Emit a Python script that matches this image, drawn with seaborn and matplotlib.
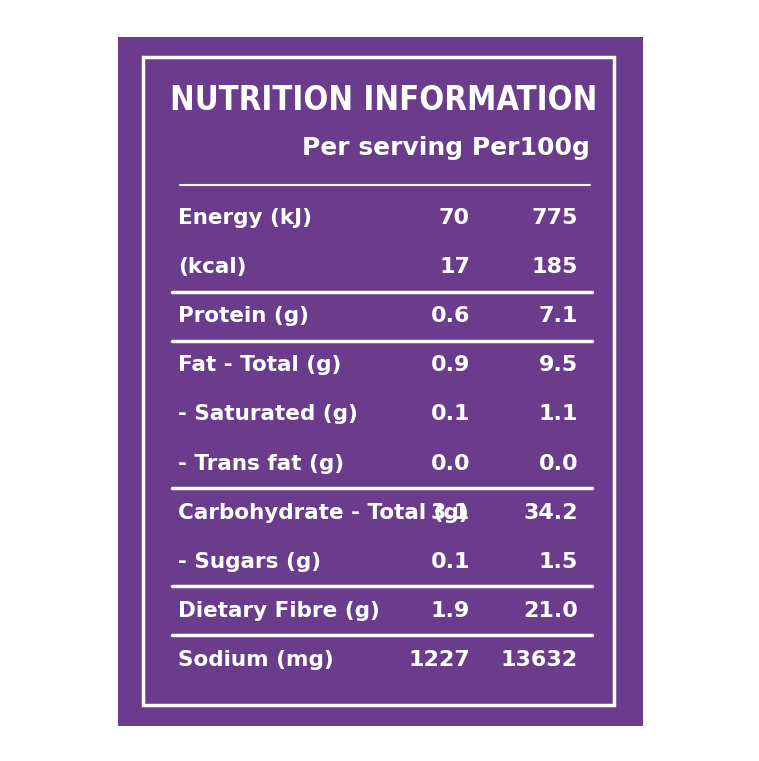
import matplotlib
matplotlib.use("Agg")
import matplotlib.pyplot as plt
import seaborn as sns
from matplotlib.patches import Rectangle

title = "NUTRITION INFORMATION"
col_headers = ["Per serving", "Per100g"]
nutrients = ["Energy (kJ)", "(kcal)", "Protein (g)", "Fat - Total (g)", "- Saturated (g)",
             "- Trans fat (g)", "Carbohydrate - Total (g)", "- Sugars (g)", "Dietary Fibre (g)", "Sodium (mg)"]
per_serving = ["70", "17", "0.6", "0.9", "0.1", "0.0", "3.1", "0.1", "1.9", "1227"]
per_100g = ["775", "185", "7.1", "9.5", "1.1", "0.0", "34.2", "1.5", "21.0", "13632"]
rule_after = [1, 2, 5, 7, 8]  # thick separator lines after these row indices

sns.set_theme(style="white")
plt.rcParams['font.family'] = ['DejaVu Sans']

purple = "#6b3c8b"
fig = plt.figure(figsize=(7.59, 7.61), dpi=100)
ax = fig.add_axes([0, 0, 1, 1])
ax.set_xlim(0, 759); ax.set_ylim(761, 0); ax.axis("off")
fig.patch.set_facecolor("white")

ax.add_patch(Rectangle((118, 37), 525, 689, facecolor=purple, edgecolor="none"))
ax.add_patch(Rectangle((143, 57), 471, 648, facecolor="none", edgecolor="white", lw=2.5))

ax.text(384, 100, title, color="white", fontsize=23.5, fontweight="bold", ha="center", va="center",
        fontstretch="condensed")
ax.text(590, 148, " ".join(col_headers), color="white", fontsize=18, ha="right", va="center",
        fontweight="semibold")

ax.plot([180, 590], [185, 185], color="white", lw=1.5)
row_y0, step = 218, 49.1
for i, (n, a, b) in enumerate(zip(nutrients, per_serving, per_100g)):
    y = row_y0 + i * step
    ax.text(178, y, n, color="white", fontsize=15.5, ha="left", va="center", fontweight="semibold")
    ax.text(470, y, a, color="white", fontsize=16, ha="right", va="center", fontweight="semibold")
    ax.text(578, y, b, color="white", fontsize=16, ha="right", va="center", fontweight="semibold")
    if i in rule_after:
        ly = y + step / 2
        ax.plot([172, 592], [ly, ly], color="white", lw=2.5)

fig.savefig("out.png", dpi=100, facecolor="white")
